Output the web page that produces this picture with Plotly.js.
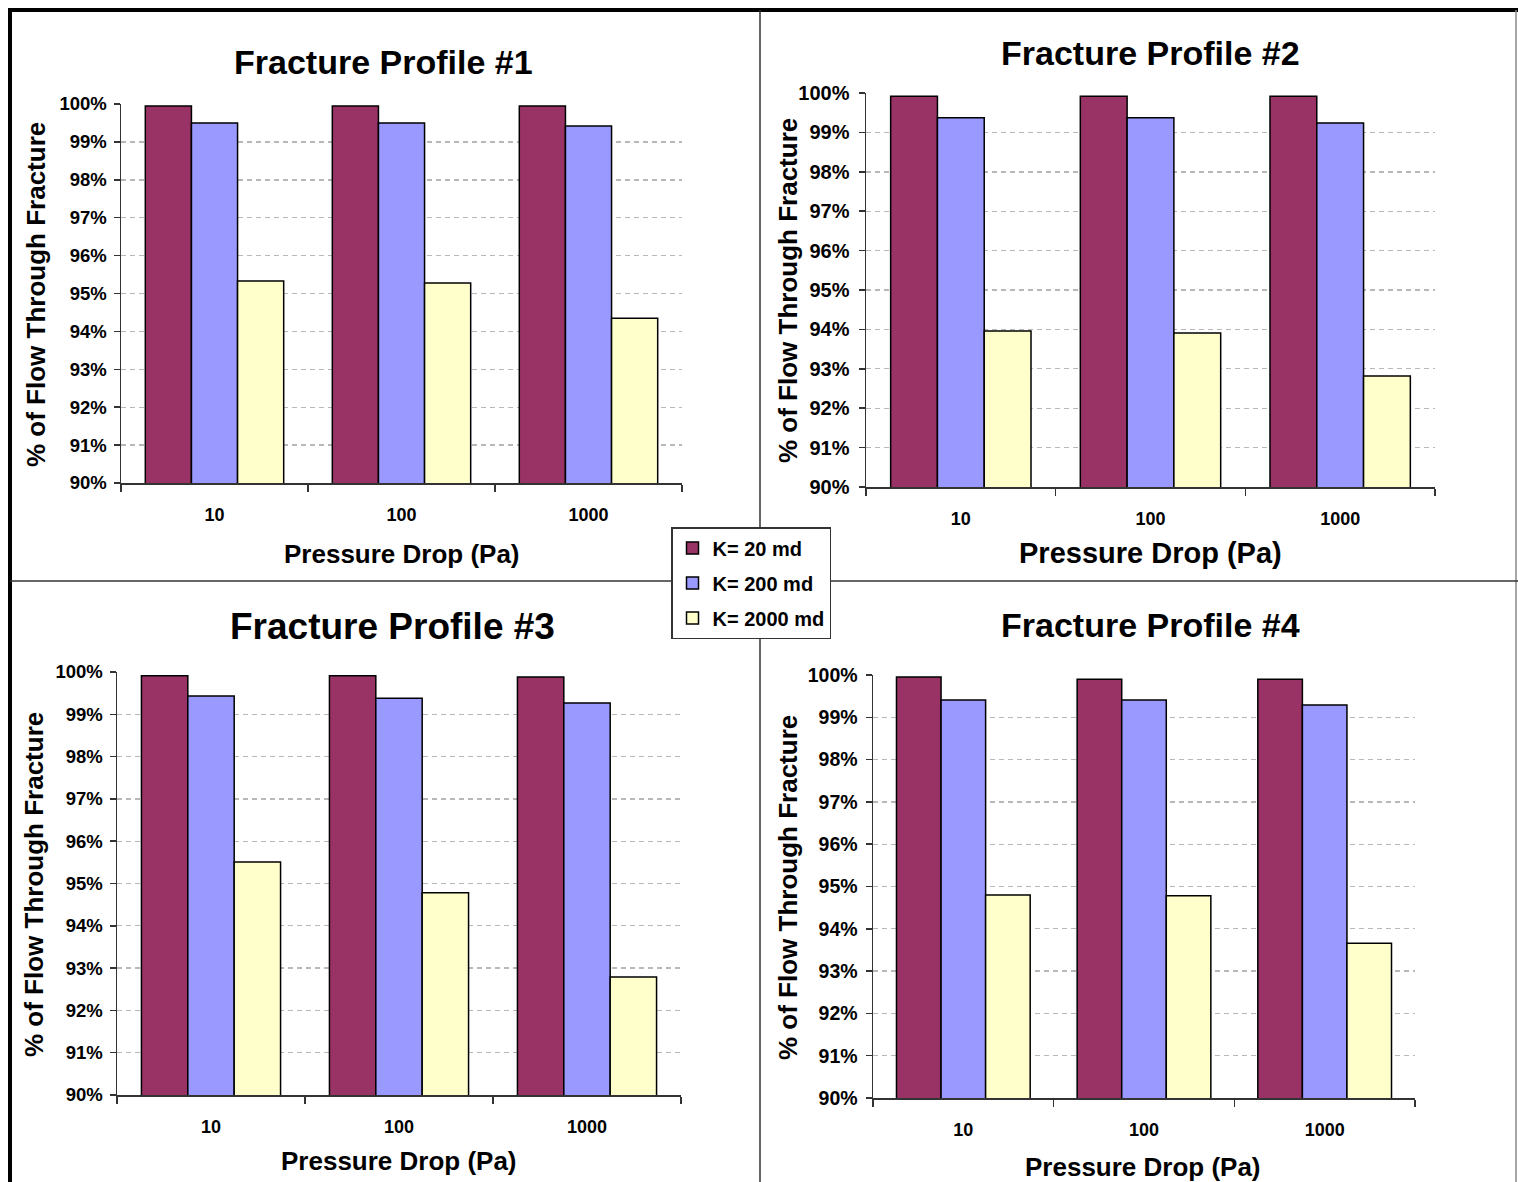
<!DOCTYPE html>
<html><head><meta charset="utf-8">
<script src="https://cdn.plot.ly/plotly-3.0.1.min.js"></script>
<style>html,body{margin:0;padding:0;background:#fff}</style>
</head><body><div id="chart" style="width:1518px;height:1182px"></div>
<script>
// ---- data ----
const categories = ["10", "100", "1000"];
const seriesNames = ["Κ= 20 md", "Κ= 200 md", "Κ= 2000 md"];
const panelTitles = ["Fracture Profile #1", "Fracture Profile #2", "Fracture Profile #3", "Fracture Profile #4"];
const yTitle = "% of Flow Through Fracture";
const xTitle = "Pressure Drop (Pa)";

const profile1_k20   = [99.95, 99.95, 99.95];
const profile1_k200  = [99.50, 99.50, 99.42];
const profile1_k2000 = [95.33, 95.28, 94.35];

const profile2_k20   = [99.92, 99.92, 99.92];
const profile2_k200  = [99.37, 99.37, 99.24];
const profile2_k2000 = [93.96, 93.91, 92.82];

const profile3_k20   = [99.91, 99.91, 99.88];
const profile3_k200  = [99.43, 99.38, 99.27];
const profile3_k2000 = [95.51, 94.78, 92.79];

const profile4_k20   = [99.95, 99.90, 99.90];
const profile4_k200  = [99.41, 99.41, 99.29];
const profile4_k2000 = [94.80, 94.78, 93.66];

const profiles = [
  [profile1_k20, profile1_k200, profile1_k2000],
  [profile2_k20, profile2_k200, profile2_k2000],
  [profile3_k20, profile3_k200, profile3_k2000],
  [profile4_k20, profile4_k200, profile4_k2000]
];
const colors = ["#993366", "#9999FF", "#FFFFCC"];

// ---- layout helpers (pixel -> paper) ----
const W = 1518, H = 1182;
const fx = p => p / W;
const fy = p => 1 - p / H;
const FONT = "Liberation Sans, Arial, sans-serif";

// plot-area boxes [left, right, top, bottom] in px
const boxes = [
  [121, 682, 104, 483],
  [866, 1435, 93, 487],
  [117, 681, 672, 1095],
  [873, 1415, 675, 1098]
];
const yTickSize = [18.5, 20, 18.5, 19.5];
const yTickStandoff = [3, 5, 3, 4];
const titlePos = [[383, 62, 34], [1150, 53, 34], [392, 626, 37], [1150, 625, 34]];
const yTitlePos = [[36, 295], [788, 291], [34, 885], [788, 888]];
const xTitlePos = [[402, 554, 26], [1150, 553, 29], [399, 1161, 26], [1143, 1167, 26]];

const traces = [];
const layout = {
  width: W, height: H,
  margin: {l: 0, r: 0, t: 0, b: 0},
  paper_bgcolor: "#ffffff",
  plot_bgcolor: "rgba(0,0,0,0)",
  barmode: "group",
  bargap: 0.26,
  bargroupgap: 0,
  font: {family: FONT, color: "#000"},
  showlegend: true,
  legend: {
    x: fx(671), y: fy(527), xanchor: "left", yanchor: "top",
    bgcolor: "#ffffff", bordercolor: "#333333", borderwidth: 1.5,
    font: {family: FONT, size: 20, weight: "bold", color: "#000"},
    traceorder: "grouped", tracegroupgap: 6,
    itemwidth: 30
  },
  annotations: [],
  shapes: []
};

profiles.forEach((series, i) => {
  const n = i === 0 ? "" : String(i + 1);
  const [l, r, t, b] = boxes[i];
  series.forEach((vals, s) => {
    traces.push({
      type: "bar", x: categories, y: vals, name: seriesNames[s],
      xaxis: "x" + n, yaxis: "y" + n,
      legendgroup: "g" + s, showlegend: i === 0,
      marker: {color: colors[s], line: {color: "#000", width: 1.5}},
      hoverinfo: "skip"
    });
  });
  layout["xaxis" + n] = {
    domain: [fx(l), fx(r)], anchor: "y" + n, type: "category",
    range: [-0.5, 2.5], fixedrange: true,
    showline: true, linecolor: "#333", linewidth: 1.5,
    ticks: "outside", tickson: "boundaries", ticklen: 7, tickcolor: "#333", tickwidth: 1.5,
    showgrid: false, zeroline: false,
    ticklabelstandoff: 15,
    tickfont: {family: FONT, size: 18, weight: "bold", color: "#000"}
  };
  layout["yaxis" + n] = {
    domain: [fy(b), fy(t)], anchor: "x" + n,
    range: [90, 100], tick0: 90, dtick: 1, ticksuffix: "%", fixedrange: true,
    showline: true, linecolor: "#333", linewidth: 1.5,
    ticks: "outside", ticklen: 6, tickcolor: "#333", tickwidth: 1.5,
    showgrid: true, gridcolor: "#b8b8b8", gridwidth: 1.4, griddash: "5px,4px",
    zeroline: false, ticklabelstandoff: yTickStandoff[i],
    tickfont: {family: FONT, size: yTickSize[i], weight: "bold", color: "#000"}
  };
  layout.annotations.push({
    xref: "paper", yref: "paper", x: fx(titlePos[i][0]), y: fy(titlePos[i][1]),
    xanchor: "center", yanchor: "middle", showarrow: false, text: panelTitles[i],
    font: {family: FONT, size: titlePos[i][2], weight: "bold", color: "#000"}
  });
  layout.annotations.push({
    xref: "paper", yref: "paper", x: fx(yTitlePos[i][0]), y: fy(yTitlePos[i][1]),
    xanchor: "center", yanchor: "middle", showarrow: false, text: yTitle, textangle: -90,
    font: {family: FONT, size: 26, weight: "bold", color: "#000"}
  });
  layout.annotations.push({
    xref: "paper", yref: "paper", x: fx(xTitlePos[i][0]), y: fy(xTitlePos[i][1]),
    xanchor: "center", yanchor: "middle", showarrow: false, text: xTitle,
    font: {family: FONT, size: xTitlePos[i][2], weight: "bold", color: "#000"}
  });
});

// frame and panel dividers
const line = (x0, y0, x1, y1, color, width) => ({
  type: "line", xref: "paper", yref: "paper", layer: "below",
  x0: fx(x0), y0: fy(y0), x1: fx(x1), y1: fy(y1), line: {color: color, width: width}
});
layout.shapes.push(line(8, 10, 1518, 10, "#000", 4));
layout.shapes.push(line(10, 8, 10, 1182, "#000", 4));
layout.shapes.push(line(1516, 10, 1516, 1182, "#888", 1.5));
layout.shapes.push(line(760, 10, 760, 1182, "#333", 1.5));
layout.shapes.push(line(10, 581, 1518, 581, "#333", 1.5));

Plotly.newPlot("chart", traces, layout, {displayModeBar: false, staticPlot: true});
</script>
</body></html>
